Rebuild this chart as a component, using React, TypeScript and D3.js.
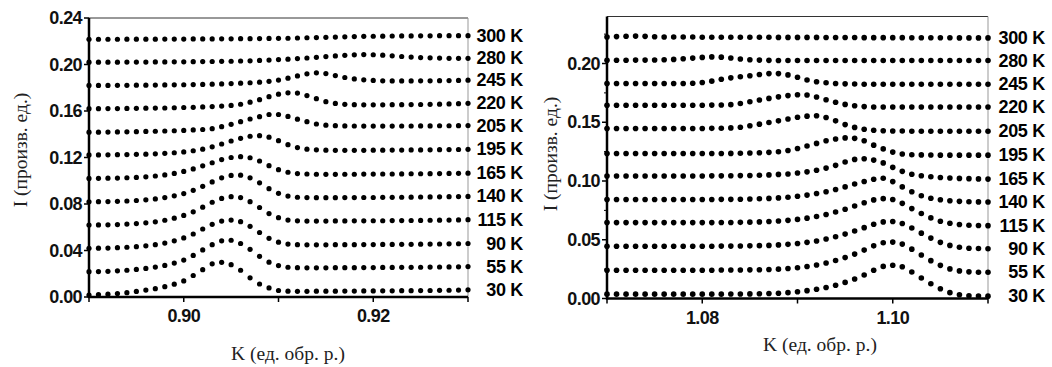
import React from "react";
import * as d3 from "d3";

// Temperatures (curve labels, bottom to top)
const TEMPS = ["30 K", "55 K", "90 K", "115 K", "140 K", "165 K", "195 K", "205 K", "220 K", "245 K", "280 K", "300 K"];
// vertical display offsets of the stacked curves
const OFFSETS = [0, 0.02, 0.04, 0.06, 0.08, 0.1, 0.12, 0.14, 0.16, 0.18, 0.2, 0.22];

// sampling grids (step 0.001)
const K_LEFT = d3.range(0, 41).map((i) => +(0.89 + i * 0.001).toFixed(3));
const K_RIGHT = d3.range(0, 41).map((i) => +(1.07 + i * 0.001).toFixed(3));

// Left panel intensities (units of 0.001, before offset)
const L30 = [1.7,2.1,2.4,3.0,3.7,4.8,6.0,7.2,8.9,11.0,13.8,18.5,23.5,28.5,29.8,27.8,23.0,16.5,11.2,7.8,5.6,5.0,4.9,4.9,5.0,5.0,5.0,5.1,5.1,5.2,5.2,5.3,5.3,5.4,5.4,5.5,5.6,5.7,5.8,6.0,6.2];
const L55 = [1.8,1.9,2.1,2.5,3.0,3.7,4.6,5.7,7.2,9.2,11.8,15.8,20.5,25.0,28.3,28.8,26.0,21.0,15.0,10.0,7.0,5.6,5.2,5.1,5.1,5.1,5.2,5.2,5.2,5.3,5.3,5.4,5.4,5.5,5.5,5.6,5.7,5.8,5.9,6.0,6.2];
const L90 = [1.9,2.0,2.1,2.4,2.8,3.3,4.0,5.0,6.4,8.3,10.8,14.2,18.5,22.5,25.3,26.2,24.8,20.8,15.5,10.5,7.2,5.5,5.0,4.9,4.9,4.9,5.0,5.0,5.0,5.1,5.1,5.2,5.2,5.3,5.3,5.4,5.5,5.6,5.7,5.8,6.0];
const L115 = [1.9,2.0,2.1,2.3,2.7,3.2,3.8,4.7,6.0,7.8,10.2,13.3,17.3,21.5,24.8,26.3,25.5,22.0,17.0,11.8,8.2,6.2,5.5,5.3,5.3,5.3,5.4,5.4,5.5,5.5,5.6,5.6,5.7,5.7,5.8,5.9,6.0,6.1,6.2,6.3,6.5];
const L140 = [1.9,2.0,2.1,2.3,2.6,3.0,3.6,4.4,5.5,7.0,9.0,11.8,15.2,19.0,22.5,24.6,24.8,22.5,18.2,13.2,9.2,6.8,5.8,5.5,5.4,5.4,5.4,5.5,5.5,5.6,5.6,5.7,5.7,5.8,5.9,6.0,6.1,6.2,6.3,6.4,6.5];
const L165 = [2.0,2.1,2.2,2.3,2.6,2.9,3.4,4.1,5.0,6.3,8.0,10.2,12.8,15.5,18.2,20.0,20.7,19.8,17.0,13.0,9.5,7.3,6.2,5.8,5.6,5.5,5.5,5.6,5.6,5.7,5.7,5.8,5.8,5.9,6.0,6.0,6.1,6.2,6.3,6.4,6.5];
const L195 = [2.2,2.2,2.3,2.4,2.5,2.7,2.9,3.2,3.6,4.1,4.8,5.8,7.2,9.2,11.6,14.2,16.5,18.3,18.8,17.5,14.5,11.0,8.5,7.2,6.6,6.3,6.2,6.2,6.2,6.2,6.3,6.3,6.4,6.4,6.5,6.5,6.6,6.7,6.8,6.9,7.0];
const L205 = [1.8,1.8,1.9,2.0,2.1,2.2,2.4,2.6,2.8,3.0,3.3,3.7,4.1,4.8,6.5,8.5,10.8,13.1,15.1,17.0,17.0,15.3,13.0,10.8,8.8,7.8,7.4,7.2,7.1,7.0,7.0,7.0,7.0,7.1,7.1,7.2,7.2,7.3,7.3,7.4,7.5];
const L220 = [2.0,2.0,2.1,2.1,2.2,2.3,2.4,2.5,2.6,2.8,3.0,3.2,3.5,3.8,4.2,4.8,5.8,7.6,9.7,12.3,14.5,15.6,15.4,13.3,10.6,8.0,6.5,5.7,5.4,5.3,5.3,5.3,5.4,5.4,5.5,5.6,5.7,5.9,6.1,6.3,6.6];
const L245 = [2.0,2.0,2.0,2.1,2.1,2.2,2.2,2.3,2.4,2.5,2.6,2.7,2.9,3.1,3.3,3.6,3.9,4.3,4.8,5.5,6.6,8.2,10.2,12.0,12.8,12.2,10.5,8.8,7.6,6.8,6.3,6.0,5.9,5.9,5.9,6.0,6.0,6.1,6.2,6.3,6.5];
const L280 = [2.0,2.0,2.0,2.0,2.1,2.1,2.1,2.2,2.2,2.3,2.3,2.4,2.5,2.6,2.7,2.8,3.0,3.2,3.5,3.8,4.2,4.6,5.1,5.6,6.2,6.8,7.4,7.9,8.3,8.5,8.4,8.0,7.5,6.9,6.4,6.0,5.7,5.5,5.3,5.3,5.3];
const L300 = [1.7,1.7,1.7,1.7,1.8,1.8,1.8,1.8,1.9,1.9,1.9,2.0,2.0,2.0,2.1,2.1,2.2,2.2,2.3,2.4,2.5,2.6,2.8,3.0,3.2,3.4,3.6,3.8,4.0,4.2,4.3,4.4,4.5,4.6,4.6,4.7,4.7,4.8,4.8,4.8,4.8];

// Right panel intensities (units of 0.001, before offset)
const R30 = [3.7,3.7,3.7,3.7,3.7,3.7,3.7,3.7,3.7,3.7,3.7,3.7,3.7,3.8,3.8,3.9,4.0,4.2,4.5,5.0,5.7,6.7,7.9,9.4,11.3,13.7,16.6,20.0,24.0,27.3,28.3,27.0,22.5,17.5,12.5,8.3,5.0,3.2,2.4,2.1,2.0];
const R55 = [4.1,4.1,4.1,4.1,4.1,4.1,4.1,4.1,4.1,4.1,4.1,4.1,4.2,4.2,4.3,4.4,4.5,4.7,5.0,5.5,6.2,7.2,8.5,10.2,12.3,14.8,17.8,21.2,24.8,27.4,28.0,26.3,22.0,17.0,12.2,8.2,5.2,3.5,2.7,2.4,2.3];
const R90 = [4.5,4.5,4.5,4.5,4.5,4.5,4.5,4.5,4.5,4.5,4.5,4.5,4.6,4.6,4.7,4.8,5.0,5.2,5.6,6.1,6.8,7.8,9.0,10.6,12.5,14.8,17.4,20.3,23.2,25.2,25.5,23.8,20.0,15.6,11.4,7.8,5.2,3.6,2.8,2.5,2.4];
const R115 = [4.6,4.6,4.6,4.6,4.6,4.6,4.6,4.6,4.6,4.6,4.6,4.6,4.7,4.7,4.8,5.0,5.2,5.5,5.9,6.5,7.3,8.4,9.8,11.5,13.6,16.0,18.7,21.5,23.9,25.0,24.3,21.0,16.5,12.3,8.6,5.8,4.0,3.0,2.4,2.1,2.0];
const R140 = [4.3,4.3,4.3,4.3,4.3,4.3,4.3,4.3,4.3,4.3,4.3,4.3,4.4,4.4,4.5,4.7,4.9,5.2,5.6,6.2,7.0,8.0,9.3,10.9,12.8,15.0,17.4,19.6,21.5,22.3,19.5,15.0,10.8,7.5,5.3,4.0,3.2,2.7,2.4,2.2,2.1];
const R165 = [4.3,4.3,4.3,4.3,4.3,4.3,4.3,4.3,4.3,4.3,4.3,4.4,4.4,4.5,4.6,4.7,4.9,5.2,5.6,6.0,6.8,7.8,9.2,11.0,13.3,16.2,18.4,19.0,17.8,15.4,11.6,8.2,5.8,4.5,3.6,3.0,2.6,2.2,2.0,1.8,1.6];
const R195 = [3.4,3.4,3.4,3.4,3.4,3.4,3.4,3.4,3.4,3.4,3.4,3.4,3.4,3.5,3.6,3.8,4.0,4.4,4.9,6.0,7.6,9.8,12.0,14.2,15.8,16.7,16.3,14.3,10.5,7.3,4.6,3.0,2.4,2.2,2.1,2.0,2.0,2.0,2.0,2.0,2.0];
const R205 = [4.7,4.7,4.7,4.7,4.7,4.7,4.7,4.7,4.7,4.7,4.7,4.8,4.9,5.2,5.8,7.0,8.4,9.8,11.2,12.8,14.2,15.2,15.5,14.0,11.2,8.0,5.6,4.0,3.2,2.8,2.6,2.5,2.4,2.4,2.4,2.4,2.4,2.4,2.4,2.4,2.4];
const R220 = [4.5,4.5,4.5,4.5,4.5,4.5,4.5,4.5,4.5,4.5,4.5,4.6,4.7,5.0,6.0,7.4,9.0,10.3,11.6,12.7,13.4,13.2,11.5,9.2,7.0,5.2,4.0,3.3,3.0,3.0,3.0,3.0,3.0,3.0,3.0,3.0,3.0,3.0,3.0,3.0,3.0];
const R245 = [3.0,3.0,3.0,3.0,3.0,3.0,3.0,3.0,3.0,3.2,3.8,5.0,6.6,7.8,8.7,9.6,10.6,11.4,11.4,10.3,8.3,6.0,4.5,3.6,3.0,2.7,2.5,2.4,2.4,2.4,2.4,2.4,2.4,2.4,2.4,2.4,2.4,2.4,2.4,2.4,2.4];
const R280 = [2.8,2.8,2.8,2.9,2.9,3.0,3.2,3.5,4.0,4.6,5.2,5.6,5.4,4.7,3.8,3.2,2.9,2.7,2.6,2.5,2.5,2.5,2.5,2.5,2.5,2.5,2.5,2.5,2.5,2.5,2.5,2.5,2.5,2.5,2.5,2.5,2.5,2.5,2.5,2.5,2.5];
const R300 = [2.6,2.9,3.2,3.3,3.1,2.8,2.6,2.5,2.5,2.5,2.4,2.4,2.4,2.4,2.3,2.3,2.3,2.3,2.2,2.2,2.2,2.2,2.2,2.1,2.1,2.1,2.1,2.0,2.0,2.0,2.0,2.0,1.9,1.9,1.9,1.9,1.9,1.8,1.8,1.8,1.8];

const LEFT_SERIES = [L30, L55, L90, L115, L140, L165, L195, L205, L220, L245, L280, L300];
const RIGHT_SERIES = [R30, R55, R90, R115, R140, R165, R195, R205, R220, R245, R280, R300];

// axis ticks
const LEFT_Y_TICKS = [0, 0.04, 0.08, 0.12, 0.16, 0.2, 0.24];
const LEFT_Y_MINOR: number[] = [];
const RIGHT_Y_TICKS = [0, 0.05, 0.1, 0.15, 0.2];
const RIGHT_Y_MINOR = [0.025, 0.075, 0.125, 0.175, 0.225];
const LEFT_X_TICKS = [0.9, 0.92];
const LEFT_X_MINOR = [0.89, 0.91, 0.93];
const RIGHT_X_TICKS = [1.08, 1.1];
const RIGHT_X_MINOR = [1.07, 1.09, 1.11];

const Y_TITLE = "I (произв. ед.)";
const X_TITLE = "K (ед. обр. р.)";

const SANS = "'Liberation Sans', Arial, sans-serif";
const SERIF = "'Liberation Serif', 'Times New Roman', serif";

type PanelProps = {
  K: number[];
  series: number[][];
  xDomain: [number, number];
  xRange: [number, number];
  yRange: [number, number];
  yTicks: number[];
  yMinor: number[];
  xTicks: number[];
  xMinor: number[];
  labelRight: number;
  yTitleX: number;
  yTitleY: number;
  xTitleX: number;
  xTitleY: number;
  r: number;
};

function Panel(p: PanelProps) {
  const x = d3.scaleLinear().domain(p.xDomain).range(p.xRange);
  const y = d3.scaleLinear().domain([0, 0.24]).range(p.yRange);
  const fmt = d3.format(".2f");
  const x0 = p.xRange[0];
  const x1 = p.xRange[1];
  const y0 = p.yRange[0];
  const y1 = p.yRange[1];
  return (
    <g>
      {/* frame */}
      <line x1={x0} x2={x1} y1={y1} y2={y1} stroke="#333" strokeWidth={1} />
      <line x1={x1} x2={x1} y1={y1} y2={y0} stroke="#999" strokeWidth={1} />
      {/* y ticks */}
      {p.yTicks.map((t) => (
        <g key={"yt" + t}>
          <line x1={x0 - 5} x2={x0} y1={y(t)} y2={y(t)} stroke="#000" strokeWidth={1.5} />
          <text x={x0 - 7} y={y(t)} textAnchor="end" dominantBaseline="central" fontFamily={SANS} fontWeight="bold" fontSize={18} letterSpacing={-0.6} fill="#111">
            {fmt(t)}
          </text>
        </g>
      ))}
      {p.yMinor.map((t) => (
        <line key={"ym" + t} x1={x0 - 3} x2={x0} y1={y(t)} y2={y(t)} stroke="#000" strokeWidth={1} />
      ))}
      {/* x ticks */}
      {p.xTicks.map((t) => (
        <g key={"xt" + t}>
          <line x1={x(t)} x2={x(t)} y1={y0} y2={y0 + 5} stroke="#000" strokeWidth={1.5} />
          <text x={x(t)} y={y0 + 25} textAnchor="middle" fontFamily={SANS} fontWeight="bold" fontSize={18} letterSpacing={-0.6} fill="#111">
            {fmt(t)}
          </text>
        </g>
      ))}
      {p.xMinor.map((t) => (
        <line key={"xm" + t} x1={x(t)} x2={x(t)} y1={y0} y2={y0 + 5} stroke="#000" strokeWidth={1.5} />
      ))}
      {/* axes */}
      <line x1={x0} x2={x0} y1={y1} y2={y0 + 1} stroke="#000" strokeWidth={2.5} />
      <line x1={x0 - 1} x2={x1} y1={y0} y2={y0} stroke="#000" strokeWidth={2.5} />
      {/* dots */}
      {p.series.map((s, i) => (
        <g key={"s" + i}>
          {s.map((v, j) => (
            <circle key={j} cx={x(p.K[j])} cy={y(OFFSETS[i] + v / 1000)} r={p.r} fill="#000" />
          ))}
          <text x={p.labelRight} y={y(OFFSETS[i] + s[s.length - 1] / 1000)} textAnchor="end" dominantBaseline="central" fontFamily={SANS} fontWeight="bold" fontSize={18} letterSpacing={-0.3} fill="#000">
            {TEMPS[i]}
          </text>
        </g>
      ))}
      {/* titles */}
      <text transform={`translate(${p.yTitleX},${p.yTitleY}) rotate(-90)`} textAnchor="middle" fontFamily={SERIF} fontSize={19.5} fill="#222">
        {Y_TITLE}
      </text>
      <text x={p.xTitleX} y={p.xTitleY} textAnchor="middle" fontFamily={SERIF} fontSize={19.5} fill="#222">
        {X_TITLE}
      </text>
    </g>
  );
}

export default function App() {
  return (
    <svg width={1052} height={367} viewBox="0 0 1052 367" style={{ position: "absolute", left: 0, top: 0, background: "#fff" }}>
      <rect width={1052} height={367} fill="#fff" />
      <Panel
        K={K_LEFT}
        series={LEFT_SERIES}
        xDomain={[0.89, 0.93]}
        xRange={[89, 468]}
        yRange={[297, 18]}
        yTicks={LEFT_Y_TICKS}
        yMinor={LEFT_Y_MINOR}
        xTicks={LEFT_X_TICKS}
        xMinor={LEFT_X_MINOR}
        labelRight={523}
        yTitleX={27}
        yTitleY={150}
        xTitleX={288}
        xTitleY={360}
        r={2.6}
      />
      <Panel
        K={K_RIGHT}
        series={RIGHT_SERIES}
        xDomain={[1.07, 1.11]}
        xRange={[607, 988]}
        yRange={[298.5, 16.5]}
        yTicks={RIGHT_Y_TICKS}
        yMinor={RIGHT_Y_MINOR}
        xTicks={RIGHT_X_TICKS}
        xMinor={RIGHT_X_MINOR}
        labelRight={1045}
        yTitleX={557}
        yTitleY={154}
        xTitleX={820}
        xTitleY={351}
        r={2.8}
      />
    </svg>
  );
}
